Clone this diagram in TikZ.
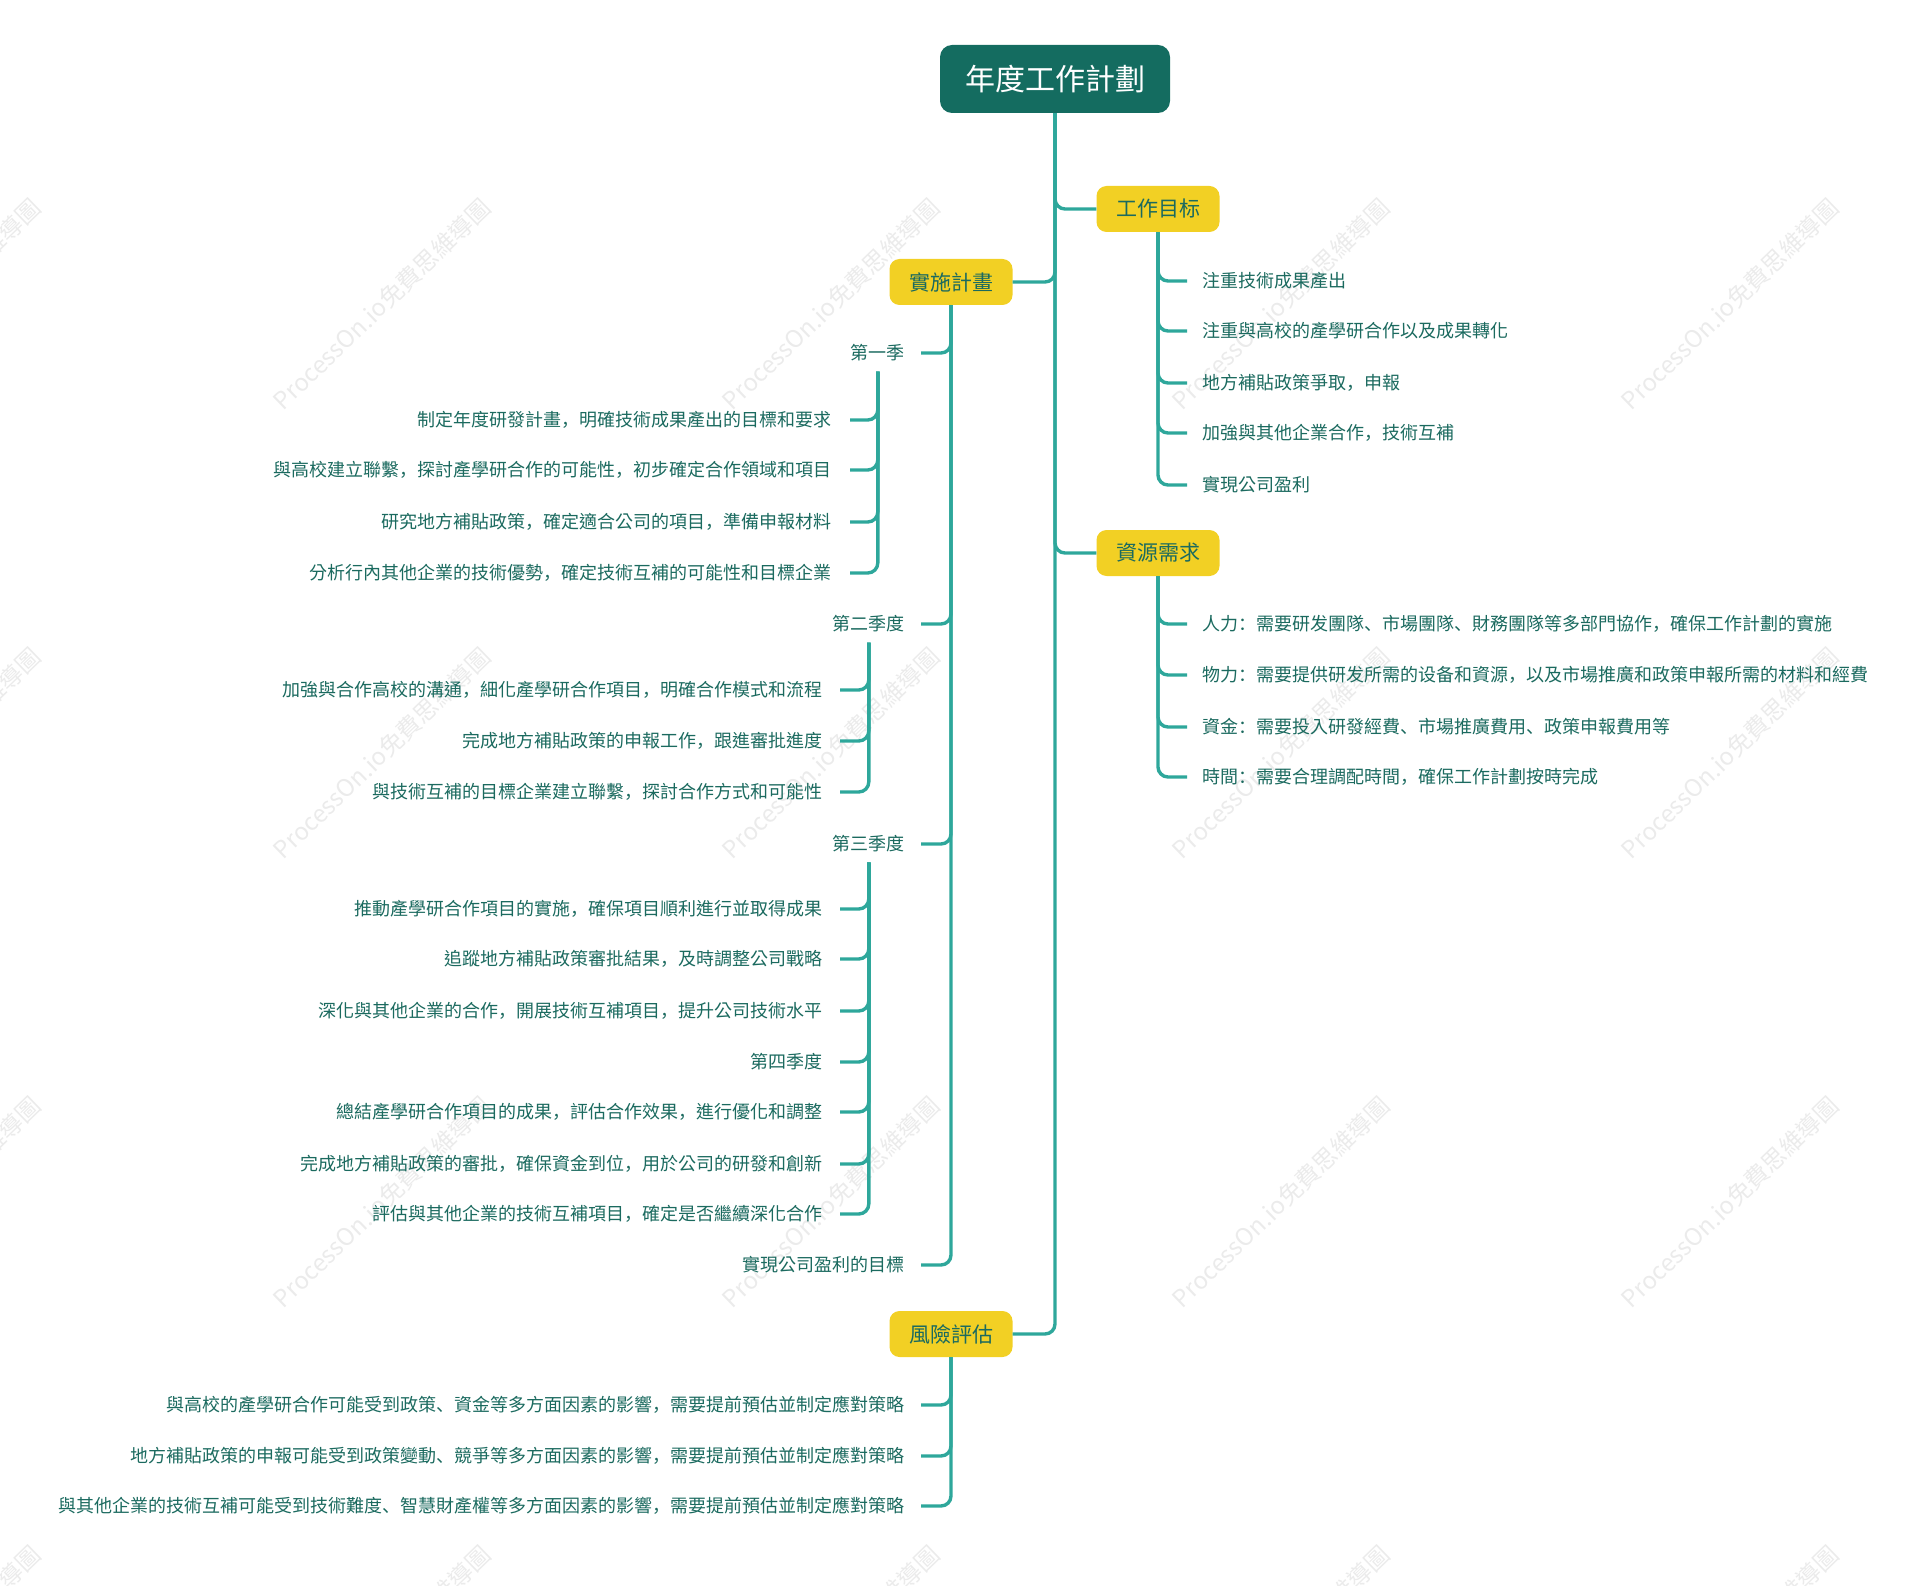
\documentclass[tikz,border=0pt]{standalone}
\usepackage{fontspec}
\setmainfont{Noto Sans CJK TC}
\newfontfamily\pfont{Noto Sans CJK SC}
\newcommand{\zc}{{\pfont ，}}
\newcommand{\zd}{{\pfont 、}}
\newcommand{\zk}{{\pfont ：}}
\definecolor{rootc}{HTML}{146C60}
\definecolor{linec}{HTML}{2EA79B}
\definecolor{boxc}{HTML}{F2D024}
\definecolor{txtc}{HTML}{1B6A5F}
\definecolor{wmc}{HTML}{EBEBEB}
\tikzset{
  rootbox/.style={fill=rootc, text=white, rounded corners=12pt, minimum width=230pt, minimum height=68pt, inner sep=0pt, font=\fontsize{30}{34}\selectfont},
  branchbox/.style={fill=boxc, text=txtc, rounded corners=10pt, minimum width=123pt, minimum height=46pt, inner sep=0pt, font=\fontsize{21}{24}\selectfont},
  leafl/.style={anchor=east, text=txtc, inner sep=0pt, font=\fontsize{18}{20}\selectfont},
  leafr/.style={anchor=west, text=txtc, inner sep=0pt, font=\fontsize{18}{20}\selectfont},
  conn/.style={draw=linec, line width=3.4pt, rounded corners=10pt},
  wmark/.style={rotate=44, text=wmc, inner sep=0pt, font=\fontsize{24}{26}\selectfont}
}
\begin{document}
\begin{tikzpicture}[x=1pt,y=-1pt]
\useasboundingbox (0,0) rectangle (1931,1586);
\clip (0,0) rectangle (1931,1586);
% watermark
\foreach \wx in {-68,382,831,1281,1730}{
  \foreach \wy in {304,753,1202,1651}{
    \node[wmark] at (\wx,\wy) {ProcessOn.io免費思維導圖};
  }
}
% root and branches
\node[rootbox] (root) at (1055,79) {年度工作計劃};
\node[branchbox] (b1) at (1158,209) {工作目标};
\node[branchbox] (b2) at (951,282) {實施計畫};
\node[branchbox] (b3) at (1158,553) {資源需求};
\node[branchbox] (b4) at (951,1334) {風險評估};
% goals
\node[leafr] (g1) at (1202,281) {注重技術成果產出};
\node[leafr] (g2) at (1202,331) {注重與高校的產學研合作以及成果轉化};
\node[leafr] (g3) at (1202,383) {地方補貼政策爭取\zc 申報};
\node[leafr] (g4) at (1202,433) {加強與其他企業合作\zc 技術互補};
\node[leafr] (g5) at (1202,485) {實現公司盈利};
% resources
\node[leafr] (r1) at (1202,624) {人力\zk 需要研发團隊\zd 市場團隊\zd 財務團隊等多部門協作\zc 確保工作計劃的實施};
\node[leafr] (r2) at (1202,675) {物力\zk 需要提供研发所需的设备和資源\zc 以及市場推廣和政策申報所需的材料和經費};
\node[leafr] (r3) at (1202,727) {資金\zk 需要投入研發經費\zd 市場推廣費用\zd 政策申報費用等};
\node[leafr] (r4) at (1202,777) {時間\zk 需要合理調配時間\zc 確保工作計劃按時完成};
% plan level 2
\node[leafl] (q1) at (905,353) {第一季};
\node[leafl] (q2) at (905,624) {第二季度};
\node[leafl] (q3) at (905,844) {第三季度};
\node[leafl] (q4) at (905,1265) {實現公司盈利的目標};
% first quarter
\node[leafl] (a1) at (832,420) {制定年度研發計畫\zc 明確技術成果產出的目標和要求};
\node[leafl] (a2) at (832,470) {與高校建立聯繫\zc 探討產學研合作的可能性\zc 初步確定合作領域和項目};
\node[leafl] (a3) at (832,522) {研究地方補貼政策\zc 確定適合公司的項目\zc 準備申報材料};
\node[leafl] (a4) at (832,573) {分析行內其他企業的技術優勢\zc 確定技術互補的可能性和目標企業};
% second quarter
\node[leafl] (c1) at (823,690) {加強與合作高校的溝通\zc 細化產學研合作項目\zc 明確合作模式和流程};
\node[leafl] (c2) at (823,741) {完成地方補貼政策的申報工作\zc 跟進審批進度};
\node[leafl] (c3) at (823,792) {與技術互補的目標企業建立聯繫\zc 探討合作方式和可能性};
% third quarter
\node[leafl] (d1) at (823,909) {推動產學研合作項目的實施\zc 確保項目順利進行並取得成果};
\node[leafl] (d2) at (823,959) {追蹤地方補貼政策審批結果\zc 及時調整公司戰略};
\node[leafl] (d3) at (823,1011) {深化與其他企業的合作\zc 開展技術互補項目\zc 提升公司技術水平};
\node[leafl] (d4) at (823,1062) {第四季度};
\node[leafl] (d5) at (823,1112) {總結產學研合作項目的成果\zc 評估合作效果\zc 進行優化和調整};
\node[leafl] (d6) at (823,1164) {完成地方補貼政策的審批\zc 確保資金到位\zc 用於公司的研發和創新};
\node[leafl] (d7) at (823,1214) {評估與其他企業的技術互補項目\zc 確定是否繼續深化合作};
% risks
\node[leafl] (k1) at (905,1405) {與高校的產學研合作可能受到政策\zd 資金等多方面因素的影響\zc 需要提前預估並制定應對策略};
\node[leafl] (k2) at (905,1456) {地方補貼政策的申報可能受到政策變動\zd 競爭等多方面因素的影響\zc 需要提前預估並制定應對策略};
\node[leafl] (k3) at (905,1506) {與其他企業的技術互補可能受到技術難度\zd 智慧財產權等多方面因素的影響\zc 需要提前預估並制定應對策略};
% connectors: root to branches
\draw[conn] (root.south) |- (b1.west);
\draw[conn] (root.south) |- (b2.east);
\draw[conn] (root.south) |- (b3.west);
\draw[conn] (root.south) |- (b4.east);
% goals
\foreach \n in {g1,g2,g3,g4,g5}{\draw[conn] (b1.south) |- ([xshift=-15pt]\n.west);}
\foreach \n in {r1,r2,r3,r4}{\draw[conn] (b3.south) |- ([xshift=-15pt]\n.west);}
% plan
\foreach \n in {q1,q2,q3,q4}{\draw[conn] (b2.south) |- ([xshift=16pt]\n.east);}
\foreach \n in {a1,a2,a3,a4}{\draw[conn] ([yshift=-10pt]q1.south) |- ([xshift=18pt]\n.east);}
\foreach \n in {c1,c2,c3}{\draw[conn] ([yshift=-10pt]q2.south) |- ([xshift=17pt]\n.east);}
\foreach \n in {d1,d2,d3,d4,d5,d6,d7}{\draw[conn] ([yshift=-10pt]q3.south) |- ([xshift=17pt]\n.east);}
% risks
\foreach \n in {k1,k2,k3}{\draw[conn] (b4.south) |- ([xshift=16pt]\n.east);}
\end{tikzpicture}
\end{document}
